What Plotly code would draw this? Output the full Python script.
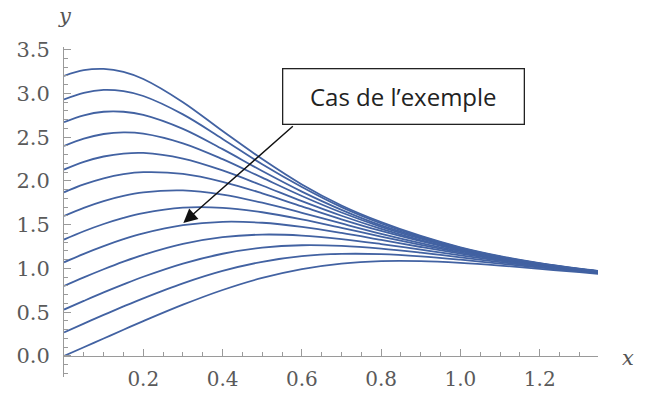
import plotly.graph_objects as go

# Sample abscissae
x_vals = [0, 0.05, 0.1, 0.15, 0.2, 0.3, 0.4, 0.5, 0.6, 0.7, 0.8, 0.9, 1.0, 1.1, 1.2, 1.3, 1.35]

# One list per curve, from the lowest starting value to the highest
curve_00 = [0.00, 0.100, 0.200, 0.300, 0.398, 0.586, 0.754, 0.892, 0.993, 1.056, 1.084, 1.084, 1.064, 1.033, 0.996, 0.957, 0.938]
curve_01 = [0.27, 0.370, 0.469, 0.566, 0.659, 0.830, 0.972, 1.076, 1.140, 1.166, 1.163, 1.138, 1.100, 1.056, 1.011, 0.967, 0.946]
curve_02 = [0.53, 0.629, 0.726, 0.818, 0.905, 1.056, 1.168, 1.237, 1.265, 1.257, 1.226, 1.180, 1.127, 1.073, 1.021, 0.973, 0.950]
curve_03 = [0.80, 0.898, 0.991, 1.078, 1.156, 1.281, 1.358, 1.387, 1.376, 1.336, 1.279, 1.215, 1.150, 1.088, 1.031, 0.978, 0.953]
curve_04 = [1.07, 1.167, 1.255, 1.334, 1.401, 1.495, 1.533, 1.522, 1.475, 1.406, 1.326, 1.245, 1.169, 1.099, 1.037, 0.981, 0.955]
curve_05 = [1.33, 1.425, 1.508, 1.578, 1.633, 1.694, 1.692, 1.642, 1.561, 1.464, 1.364, 1.270, 1.184, 1.108, 1.043, 0.983, 0.957]
curve_06 = [1.60, 1.693, 1.770, 1.829, 1.869, 1.891, 1.843, 1.751, 1.636, 1.514, 1.396, 1.290, 1.197, 1.114, 1.046, 0.985, 0.959]
curve_07 = [1.87, 1.960, 2.030, 2.077, 2.100, 2.080, 1.990, 1.858, 1.709, 1.562, 1.428, 1.311, 1.207, 1.118, 1.048, 0.987, 0.961]
curve_08 = [2.13, 2.218, 2.279, 2.313, 2.320, 2.255, 2.120, 1.948, 1.769, 1.602, 1.453, 1.324, 1.214, 1.122, 1.050, 0.989, 0.963]
curve_09 = [2.40, 2.484, 2.536, 2.555, 2.541, 2.430, 2.249, 2.037, 1.828, 1.639, 1.476, 1.340, 1.222, 1.127, 1.052, 0.991, 0.965]
curve_10 = [2.67, 2.750, 2.790, 2.790, 2.755, 2.595, 2.363, 2.113, 1.878, 1.670, 1.492, 1.352, 1.230, 1.131, 1.055, 0.993, 0.966]
curve_11 = [2.93, 3.007, 3.040, 3.025, 2.970, 2.760, 2.480, 2.190, 1.930, 1.700, 1.514, 1.363, 1.236, 1.136, 1.058, 0.995, 0.968]
curve_12 = [3.20, 3.265, 3.280, 3.247, 3.165, 2.900, 2.570, 2.250, 1.960, 1.720, 1.530, 1.372, 1.242, 1.141, 1.061, 0.997, 0.970]

curves = [curve_00, curve_01, curve_02, curve_03, curve_04, curve_05, curve_06,
          curve_07, curve_08, curve_09, curve_10, curve_11, curve_12]

x_ticks = [0.2, 0.4, 0.6, 0.8, 1.0, 1.2]
x_minor = [0.05, 0.1, 0.15, 0.25, 0.3, 0.35, 0.45, 0.5, 0.55, 0.65, 0.7, 0.75,
           0.85, 0.9, 0.95, 1.05, 1.1, 1.15, 1.25, 1.3, 1.35]
callout_text = "Cas de l\u2019exemple"

fig = go.Figure()
for ys in curves:
    fig.add_trace(go.Scatter(
        x=x_vals, y=ys, mode="lines",
        line=dict(color="#4262a2", width=1.8, shape="spline", smoothing=1.0),
        hoverinfo="skip", showlegend=False,
    ))

YMIN, YMAX = -0.24, 3.53
XMAX = 1.347
tick_font = dict(family="DejaVu Serif", size=21, color="#5a5a5a")

fig.update_layout(
    width=646, height=394,
    paper_bgcolor="white", plot_bgcolor="white",
    margin=dict(l=64, r=48, t=47, b=17),
    xaxis=dict(
        range=[0, XMAX], anchor="free", position=(0 - YMIN) / (YMAX - YMIN),
        automargin=False,
        showgrid=False, zeroline=False, showline=True, linecolor="#9a9a9a", linewidth=1,
        tickmode="array", tickvals=x_ticks, tickformat=".1f",
        ticks="inside", ticklen=7, tickcolor="#9a9a9a", tickwidth=1,
        minor=dict(tickmode="array", tickvals=x_minor, ticks="inside", ticklen=4,
                   tickcolor="#9a9a9a", tickwidth=1),
        tickfont=dict(family="DejaVu Serif", size=20, color="#5a5a5a"),
        ticklabelstandoff=5,
    ),
    yaxis=dict(
        range=[YMIN, YMAX], automargin=False,
        showgrid=False, zeroline=False, showline=True, linecolor="#9a9a9a", linewidth=1,
        tickmode="linear", tick0=0, dtick=0.5, tickformat=".1f",
        ticks="inside", ticklen=7, tickcolor="#9a9a9a", tickwidth=1,
        minor=dict(tickmode="linear", tick0=0, dtick=0.1, ticks="inside", ticklen=4,
                   tickcolor="#9a9a9a", tickwidth=1),
        tickfont=tick_font, ticklabelstandoff=9,
    ),
)

axis_name_font = dict(family="DejaVu Serif", size=21, color="#555555", style="italic")
# axis names
fig.add_annotation(x=0, y=1.0, xref="x", yref="paper", text="y", showarrow=False,
                   xanchor="center", yanchor="bottom", xshift=1, yshift=17,
                   font=axis_name_font)
fig.add_annotation(x=1.0, y=0, xref="paper", yref="y", text="x", showarrow=False,
                   xanchor="left", yanchor="middle", xshift=22, yshift=-2,
                   font=axis_name_font)

# callout box
fig.add_annotation(x=0.856, y=2.965, xref="x", yref="y", text=callout_text, showarrow=False,
                   width=238, height=52, bordercolor="#222222", borderwidth=1.3, borderpad=1,
                   bgcolor="white", font=dict(family="Open Sans", size=24, color="#222222"))
# arrow from box corner to the curve
fig.add_annotation(x=0.301, y=1.52, xref="x", yref="y", ax=0.581, ay=2.64,
                   axref="x", ayref="y", text="", showarrow=True,
                   arrowhead=2, arrowsize=2.0, arrowwidth=1.4, arrowcolor="#111111")

fig.write_html("out.html", config={"displayModeBar": False},
               post_script="document.body.style.margin='0';document.body.style.padding='0';")
